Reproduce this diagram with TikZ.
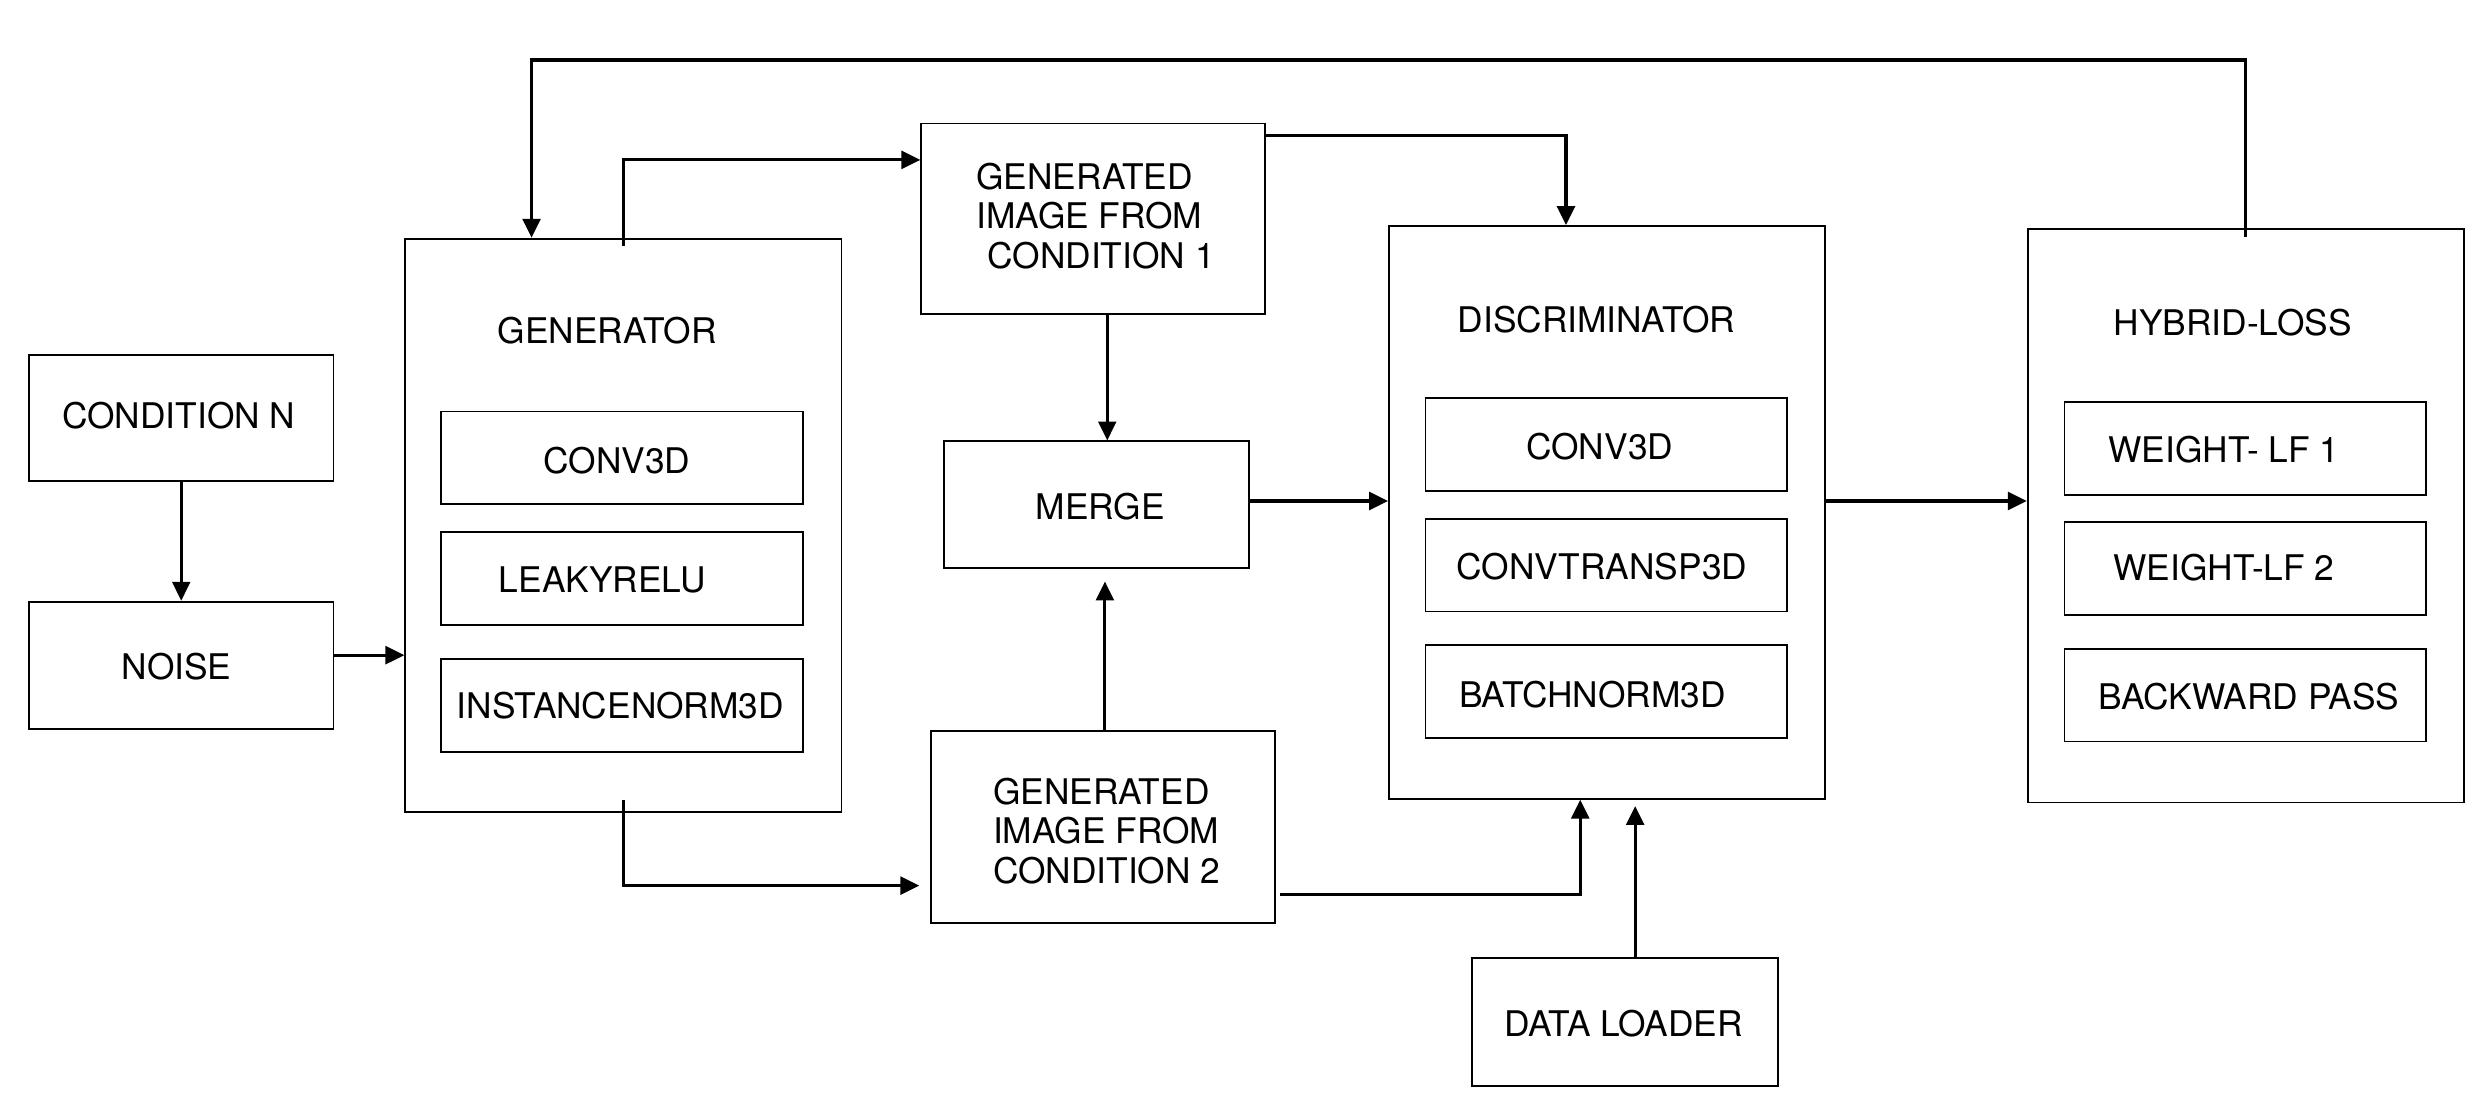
\documentclass[tikz,border=0pt]{standalone}
\usepackage{fontspec}
\setmainfont{TeX Gyre Heros}
\usetikzlibrary{arrows.meta}

\begin{document}
\begin{tikzpicture}[x=0.02cm, y=-0.02cm,
    box/.style={draw, line width=0.65pt, inner sep=0pt},
    layer/.style={box, minimum width=4.57cm, minimum height=1.172cm},
    lbl/.style={inner sep=0pt, text height=9.1pt, text depth=0pt, font=\fontsize{12.7}{14.3}\selectfont},
    multi/.style={inner sep=0pt, align=left, anchor=north west, font=\fontsize{12.7}{14.3}\selectfont},
    conn/.style={line width=1.1pt, -{Triangle[length=6.8pt, width=6.4pt]}}]
    \useasboundingbox (0,0) rectangle (1568,692.4);

    % inputs
    \node[box, minimum width=3.846cm, minimum height=1.592cm] (condN) at (114.5,264.2) {};
    \node[lbl] (condNT) at (113,263) {CONDITION N};
    \node[box, minimum width=3.846cm, minimum height=1.614cm] (noise) at (114.5,420.4) {};
    \node[lbl] (noiseT) at (111.5,421) {NOISE};

    % generator
    \node[box, minimum width=5.512cm, minimum height=7.246cm] (gen) at (393.8,331.9) {};
    \node[lbl] (genT) at (383.6,208.7) {GENERATOR};
    \node[layer] (gconv) at (393,289.3) {};
    \node[lbl] (gconvT) at (389.7,291) {CONV3D};
    \node[layer] (gleaky) at (393,365.4) {};
    \node[lbl] (gleakyT) at (380.5,366) {LEAKYRELU};
    \node[layer] (ginst) at (393,445.7) {};
    \node[lbl] (ginstT) at (392,446) {INSTANCENORM3D};

    % generated images and merge
    \node[box, minimum width=4.34cm, minimum height=2.41cm] (gi1) at (690.5,138.3) {};
    \node[multi] (gi1T) at (616.5,102.5) {GENERATED\\IMAGE FROM\\\hspace*{0.14cm}CONDITION 1};
    \node[box, minimum width=3.85cm, minimum height=1.6cm] (merge) at (692.8,318.8) {};
    \node[lbl] (mergeT) at (695,320) {MERGE};
    \node[box, minimum width=4.35cm, minimum height=2.42cm] (gi2) at (696.8,522.5) {};
    \node[multi] (gi2T) at (627,491) {GENERATED\\IMAGE FROM\\CONDITION 2};

    % discriminator
    \node[box, minimum width=5.516cm, minimum height=7.24cm] (disc) at (1015.3,323.7) {};
    \node[lbl] (discT) at (1008.6,202) {DISCRIMINATOR};
    \node[layer] (dconv) at (1014.8,280.8) {};
    \node[lbl] (dconvT) at (1010.6,282) {CONV3D};
    \node[layer] (dtrans) at (1014.8,357) {};
    \node[lbl] (dtransT) at (1012,358) {CONVTRANSP3D};
    \node[layer] (dbatch) at (1014.8,437) {};
    \node[lbl] (dbatchT) at (1006,439) {BATCHNORM3D};
    \node[box, minimum width=3.86cm, minimum height=1.62cm] (loader) at (1026.5,645.5) {};
    \node[lbl] (loaderT) at (1025.8,647) {DATA LOADER};

    % hybrid loss
    \node[box, minimum width=5.512cm, minimum height=7.252cm] (hyb) at (1418.8,325.7) {};
    \node[lbl] (hybT) at (1410.5,204) {HYBRID-LOSS};
    \node[layer] (hw1) at (1418.4,283.2) {};
    \node[lbl] (hw1T) at (1405,284) {WEIGHT- LF 1};
    \node[layer] (hw2) at (1418.4,359.3) {};
    \node[lbl] (hw2T) at (1405,359) {WEIGHT-LF 2};
    \node[layer] (hback) at (1418.4,439.1) {};
    \node[lbl] (hbackT) at (1420.7,440) {BACKWARD PASS};

    \coordinate (fbtop) at (900,37.9);

    % connectors
    \draw[conn] (condN.south) -- (noise.north);
    \draw[conn] ([yshift=0.13cm]noise.east) -- ([yshift=0.13cm]noise.east -| gen.west);
    \draw[conn] ([yshift=-0.1cm]gen.north) |- ([yshift=0.746cm]gi1.west);
    \draw[conn, shorten >=0.134cm] ([yshift=0.166cm]gen.south) |- ([yshift=-0.74cm]gi2.west);
    \draw[conn] ([xshift=0.18cm]gi1.south) -- ([xshift=0.18cm]gi1.south |- merge.north);
    \draw[conn, shorten >=0.16cm] ([xshift=0.025cm]gi2.north) -- ([xshift=0.025cm]gi2.north |- merge.south);
    \draw[conn] ([yshift=0.046cm]merge.east) -- ([yshift=0.046cm]merge.east -| disc.west);
    \draw[conn] ([yshift=1.06cm]gi1.east) -| ([xshift=-0.52cm]disc.north);
    \draw[conn] ([xshift=0.05cm,yshift=-0.85cm]gi2.east) -| ([xshift=-0.34cm]disc.south);
    \draw[conn, shorten >=0.08cm] ([xshift=0.13cm]loader.north) -- ([xshift=0.13cm]loader.north |- disc.south);
    \draw[conn] ([yshift=0.144cm]disc.east) -- ([yshift=0.144cm]disc.east -| hyb.west);
    \draw[conn] ([yshift=-0.12cm]hyb.north) |- (fbtop) -| ([xshift=-1.16cm]gen.north);
\end{tikzpicture}
\end{document}
